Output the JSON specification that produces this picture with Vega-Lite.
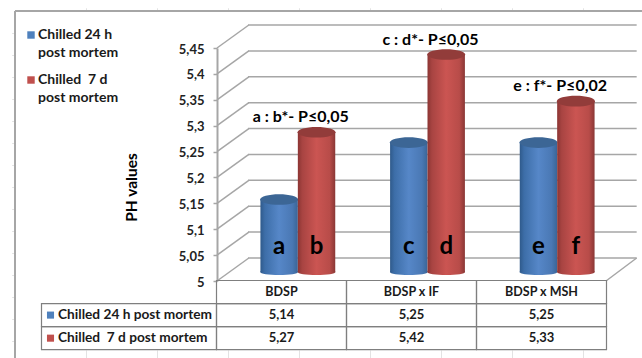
{
  "$schema": "https://vega.github.io/schema/vega-lite/v6.json",
  "width": 642,
  "height": 358,
  "padding": 0,
  "autosize": {"type": "none"},
  "background": "#ffffff",
  "config": {
    "view": {"stroke": null},
    "locale": {"number": {"decimal": ",", "thousands": ".", "grouping": [3], "currency": ["", " €"]}},
    "text": {"font": "Lato", "fontWeight": "bold", "fontSize": 13, "fill": "#1a1a1a"},
    "style": {"guide-label": {"lineHeight": 18}}
  },
  "datasets": {
    "rows": [
      {"category": "BDSP", "series": "Chilled 24 h post mortem", "ph": 5.14, "letter": "a"},
      {"category": "BDSP", "series": "Chilled \u00a07 d post mortem", "ph": 5.27, "letter": "b", "note": "a : b*- P≤0,05"},
      {"category": "BDSP x IF", "series": "Chilled 24 h post mortem", "ph": 5.25, "letter": "c"},
      {"category": "BDSP x IF", "series": "Chilled \u00a07 d post mortem", "ph": 5.42, "letter": "d", "note": "c : d*- P≤0,05"},
      {"category": "BDSP x MSH", "series": "Chilled 24 h post mortem", "ph": 5.25, "letter": "e"},
      {"category": "BDSP x MSH", "series": "Chilled \u00a07 d post mortem", "ph": 5.33, "letter": "f", "note": "e : f*- P≤0,02"}
    ],
    "ticks": [
      {"tick": 5}, {"tick": 5.05}, {"tick": 5.1}, {"tick": 5.15}, {"tick": 5.2},
      {"tick": 5.25}, {"tick": 5.3}, {"tick": 5.35}, {"tick": 5.4}, {"tick": 5.45}
    ],
    "columns": [{"category": "BDSP"}, {"category": "BDSP x IF"}, {"category": "BDSP x MSH"}],
    "seriesRows": [
      {"series": "Chilled 24 h post mortem", "head": "Series"},
      {"series": "Chilled \u00a07 d post mortem", "head": "Series"}
    ]
  },
  "data": {"name": "rows"},
  "resolve": {"scale": {"x": "independent", "y": "independent"}},
  "layer": [
    {
      "description": "Worksheet frame with the faint cell marks around it",
      "resolve": {"axis": {"x": "independent", "y": "independent"}},
      "encoding": {
        "x": {"datum": 0, "type": "quantitative", "scale": {"domain": [0, 8.83], "range": [15, 642], "nice": false, "zero": false},
          "axis": {"orient": "top", "offset": -11, "values": [1, 2, 3, 4, 5, 6, 7, 8], "tickSize": 3, "tickColor": "#e3e3e3", "labels": false, "domain": false, "grid": false, "title": null}},
        "y": {"datum": 0, "type": "quantitative", "scale": {"domain": [0, 15.77], "range": [11, 358], "nice": false, "zero": false},
          "axis": {"orient": "left", "offset": -15, "values": [1, 2, 3, 4, 5, 6, 7, 8, 9, 10, 11, 12, 13, 14, 15], "tickSize": 3, "tickColor": "#e3e3e3", "labels": false, "domain": false, "grid": false, "title": null}}
      },
      "layer": [
        {"mark": {"type": "rule", "stroke": "#a6a6a6", "strokeWidth": 1.5}, "encoding": {"x2": {"datum": 8.83}}},
        {"mark": {"type": "rule", "stroke": "#a6a6a6", "strokeWidth": 1.5}, "encoding": {"y2": {"datum": 15.77}}},
        {
          "mark": {"type": "rule", "strokeOpacity": 0},
          "encoding": {
            "x": {"datum": 1, "type": "quantitative",
              "axis": {"orient": "bottom", "offset": -8, "values": [1, 2, 3, 4, 5, 6, 7, 8], "tickSize": 8, "tickColor": "#e3e3e3", "labels": false, "domain": false, "grid": false, "title": null}}
          }
        }
      ]
    },
    {
      "description": "Perspective walls and the pH axis on the front plane",
      "data": {"name": "ticks"},
      "encoding": {
        "x": {"datum": "BDSP", "type": "nominal",
          "scale": {"domain": ["BDSP", "BDSP x IF", "BDSP x MSH"], "range": [217, 606], "paddingInner": 0, "paddingOuter": 0},
          "axis": null},
        "y": {"field": "tick", "type": "quantitative",
          "scale": {"domain": [5, 5.45], "range": [281, 48], "nice": false, "zero": false},
          "axis": {"orient": "left", "offset": -217, "values": [5, 5.05, 5.1, 5.15, 5.2, 5.25, 5.3, 5.35, 5.4, 5.45], "format": ".2~f",
            "grid": false, "domainColor": "#a6a6a6", "domainWidth": 2, "tickColor": "#a6a6a6", "tickWidth": 1.5, "tickSize": 4,
            "labelFont": "Lato", "labelFontSize": 13, "labelFontWeight": "bold", "labelColor": "#222222", "labelPadding": 9, "labelOffset": 1,
            "title": "PH values", "titleFont": "Lato", "titleFontSize": 15.5, "titleFontWeight": "bold", "titleColor": "#000000",
            "titleX": -86, "titleY": 187, "titleAngle": 270, "titleAlign": "center", "titleBaseline": "middle"}}
      },
      "layer": [
        {
          "mark": {"type": "rule", "stroke": "#a6a6a6", "strokeWidth": 1.5, "xOffset": 31, "x2Offset": 95.5, "yOffset": -23},
          "encoding": {
            "x": {"datum": "BDSP", "bandPosition": 0},
            "x2": {"datum": "BDSP x MSH"}
          }
        },
        {
          "mark": {"type": "rule", "stroke": "#a6a6a6", "strokeWidth": 1.5, "x2Offset": -33, "y2Offset": -23},
          "encoding": {
            "x": {"datum": "BDSP", "bandPosition": 0},
            "x2": {"datum": "BDSP"},
            "y2": {"field": "tick"}
          }
        },
        {
          "data": {"values": [{"tick": 5}]},
          "mark": {"type": "rule", "stroke": "#a6a6a6", "strokeWidth": 1.5, "x2Offset": 95.5, "y2Offset": -23},
          "encoding": {
            "x": {"datum": "BDSP x MSH", "bandPosition": 1},
            "x2": {"datum": "BDSP x MSH"},
            "y2": {"field": "tick"}
          }
        }
      ]
    },
    {
      "description": "Cylinders and their labels, set back from the front plane",
      "encoding": {
        "x": {"field": "category", "type": "nominal", "sort": null,
          "scale": {"domain": ["BDSP", "BDSP x IF", "BDSP x MSH"], "range": [233, 622], "paddingInner": 0, "paddingOuter": 0},
          "axis": null},
        "y": {"field": "ph", "type": "quantitative",
          "scale": {"domain": [5, 5.45], "range": [281, 48], "nice": false, "zero": false},
          "axis": null}
      },
      "layer": [
        {
          "transform": [{"filter": {"field": "series", "equal": "Chilled 24 h post mortem"}}],
          "encoding": {
            "xOffset": {"field": "series", "type": "nominal", "sort": null,
              "scale": {"domain": ["Chilled 24 h post mortem", "Chilled \u00a07 d post mortem"], "paddingInner": 0, "paddingOuter": 0.733}}
          },
          "layer": [
            {
              "mark": {"type": "point", "filled": true, "opacity": 1, "size": 1444, "yOffset": -9,
                "shape": "M-1,0A1,0.16 0 1,1 1,0A1,0.16 0 1,1 -1,0Z",
                "fill": {"gradient": "linear", "x1": 0, "x2": 1, "y1": 0, "y2": 0, "stops": [
                  {"offset": 0, "color": "#2f5a8b"}, {"offset": 0.12, "color": "#3d6ea8"}, {"offset": 0.5, "color": "#5687c8"}, {"offset": 0.85, "color": "#4a78b4"}, {"offset": 1, "color": "#3a6597"}]}},
              "encoding": {"y": {"datum": 5, "type": "quantitative"}}
            },
            {
              "mark": {"type": "bar", "yOffset": -9, "y2Offset": -9,
                "fill": {"gradient": "linear", "x1": 0, "x2": 1, "y1": 0, "y2": 0, "stops": [
                  {"offset": 0, "color": "#2f5a8b"}, {"offset": 0.12, "color": "#3d6ea8"}, {"offset": 0.5, "color": "#5687c8"}, {"offset": 0.85, "color": "#4a78b4"}, {"offset": 1, "color": "#3a6597"}]}},
              "encoding": {"y2": {"datum": 5}}
            },
            {
              "mark": {"type": "point", "filled": true, "opacity": 1, "size": 1444, "yOffset": -9, "fill": "#3c6695",
                "shape": "M-1,0A1,0.28 0 1,1 1,0A1,0.28 0 1,1 -1,0Z"}
            },
            {
              "mark": {"type": "text", "fontSize": 24, "fill": "#000000", "yOffset": -9, "dy": 1},
              "encoding": {"y": {"datum": 5.05, "type": "quantitative"}, "text": {"field": "letter"}}
            }
          ]
        },
        {
          "transform": [{"filter": {"field": "series", "equal": "Chilled \u00a07 d post mortem"}}],
          "encoding": {
            "xOffset": {"field": "series", "type": "nominal", "sort": null,
              "scale": {"domain": ["Chilled 24 h post mortem", "Chilled \u00a07 d post mortem"], "paddingInner": 0, "paddingOuter": 0.733}}
          },
          "layer": [
            {
              "mark": {"type": "point", "filled": true, "opacity": 1, "size": 1444, "yOffset": -9,
                "shape": "M-1,0A1,0.16 0 1,1 1,0A1,0.16 0 1,1 -1,0Z",
                "fill": {"gradient": "linear", "x1": 0, "x2": 1, "y1": 0, "y2": 0, "stops": [
                  {"offset": 0, "color": "#8c3533"}, {"offset": 0.12, "color": "#a84442"}, {"offset": 0.5, "color": "#cb5552"}, {"offset": 0.85, "color": "#b84c49"}, {"offset": 1, "color": "#8a3735"}]}},
              "encoding": {"y": {"datum": 5, "type": "quantitative"}}
            },
            {
              "mark": {"type": "bar", "yOffset": -9, "y2Offset": -9,
                "fill": {"gradient": "linear", "x1": 0, "x2": 1, "y1": 0, "y2": 0, "stops": [
                  {"offset": 0, "color": "#8c3533"}, {"offset": 0.12, "color": "#a84442"}, {"offset": 0.5, "color": "#cb5552"}, {"offset": 0.85, "color": "#b84c49"}, {"offset": 1, "color": "#8a3735"}]}},
              "encoding": {"y2": {"datum": 5}}
            },
            {
              "mark": {"type": "point", "filled": true, "opacity": 1, "size": 1444, "yOffset": -9, "fill": "#923c3a",
                "shape": "M-1,0A1,0.28 0 1,1 1,0A1,0.28 0 1,1 -1,0Z"}
            },
            {
              "mark": {"type": "text", "fontSize": 24, "fill": "#000000", "yOffset": -9, "dy": 1},
              "encoding": {"y": {"datum": 5.05, "type": "quantitative"}, "text": {"field": "letter"}}
            }
          ]
        },
        {
          "transform": [{"filter": "isValid(datum.note)"}],
          "mark": {"type": "text", "fontSize": 16, "fill": "#000000", "dx": 3, "dy": -24},
          "encoding": {"text": {"field": "note"}}
        }
      ]
    },
    {
      "description": "Data table under the plot, one column per category",
      "encoding": {
        "x": {"field": "category", "type": "nominal", "sort": null,
          "scale": {"domain": ["BDSP", "BDSP x IF", "BDSP x MSH"], "range": [216.5, 606.5], "paddingInner": 0, "paddingOuter": 0},
          "axis": null},
        "y": {"field": "series", "type": "nominal", "sort": null,
          "scale": {"domain": ["Category", "Chilled 24 h post mortem", "Chilled \u00a07 d post mortem"], "range": [280.5, 349.7], "paddingInner": 0, "paddingOuter": 0},
          "axis": null}
      },
      "layer": [
        {
          "data": {"name": "columns"},
          "mark": {"type": "rect", "fill": null, "stroke": "#7f7f7f", "strokeWidth": 1.2},
          "encoding": {"y": {"datum": "Category"}}
        },
        {
          "data": {"name": "columns"},
          "mark": {"type": "text", "fontSize": 12.5},
          "encoding": {"y": {"datum": "Category"}, "text": {"field": "category"}}
        },
        {"mark": {"type": "rect", "fill": null, "stroke": "#7f7f7f", "strokeWidth": 1.2}},
        {
          "mark": {"type": "text", "fontSize": 13},
          "encoding": {"text": {"field": "ph", "type": "quantitative", "format": ".2f"}}
        }
      ]
    },
    {
      "description": "Series column of the table, which also feeds the legend",
      "data": {"name": "seriesRows"},
      "encoding": {
        "x": {"field": "head", "type": "nominal",
          "scale": {"domain": ["Series"], "range": [41.5, 216.5], "paddingInner": 0, "paddingOuter": 0},
          "axis": null},
        "y": {"field": "series", "type": "nominal", "sort": null,
          "scale": {"domain": ["Category", "Chilled 24 h post mortem", "Chilled \u00a07 d post mortem"], "range": [280.5, 349.7], "paddingInner": 0, "paddingOuter": 0},
          "axis": null}
      },
      "layer": [
        {"mark": {"type": "rect", "fill": null, "stroke": "#7f7f7f", "strokeWidth": 1.2}},
        {
          "mark": {"type": "point", "shape": "square", "filled": true, "opacity": 1, "size": 50, "xOffset": -78.5},
          "encoding": {
            "color": {"field": "series", "type": "nominal", "sort": null,
              "scale": {"domain": ["Chilled 24 h post mortem", "Chilled \u00a07 d post mortem"], "range": ["#4f81bd", "#c0504d"]},
              "legend": {"orient": "none", "legendX": 24, "legendY": 28, "title": null, "symbolType": "square", "symbolSize": 55,
                "labelFont": "Lato", "labelFontSize": 14, "labelFontWeight": "bold", "labelColor": "#1a1a1a", "labelLimit": 200, "rowPadding": 13, "labelOffset": 0,
                "labelExpr": "split(replace(datum.label, ' post', '|post'), '|')"}}
          }
        },
        {
          "mark": {"type": "text", "align": "left", "fontSize": 13.7, "dx": -71},
          "encoding": {"text": {"field": "series"}}
        }
      ]
    }
  ]
}
